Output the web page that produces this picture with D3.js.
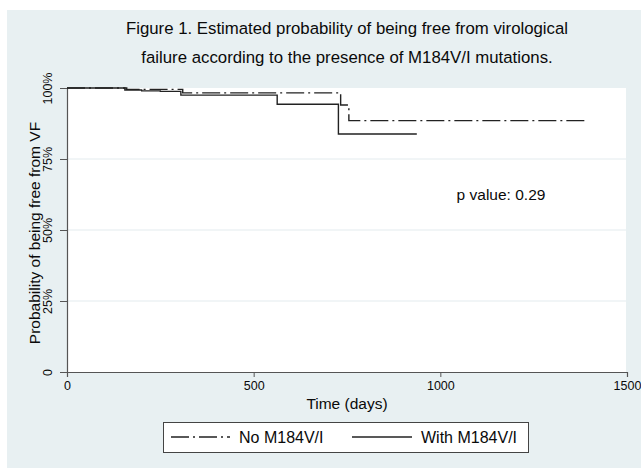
<!DOCTYPE html>
<html>
<head>
<meta charset="utf-8">
<script src="https://cdn.jsdelivr.net/npm/d3@7"></script>
<style>
  html, body { margin: 0; padding: 0; background: #ffffff; }
  svg { display: block; font-family: "Liberation Sans", Arial, Helvetica, sans-serif; }
</style>
</head>
<body>
<svg id="chart" width="641" height="468"></svg>
<script>
// Kaplan-Meier estimates, time in days
const noDays   = [0, 160, 310, 733, 755, 1395];
const noSurv   = [1, 0.995, 0.983, 0.94, 0.885, 0.885];
const withDays = [0, 155, 200, 250, 305, 563, 727, 937];
const withSurv = [1, 0.993, 0.99, 0.988, 0.975, 0.943, 0.838, 0.838];

const xTicks = [0, 500, 1000, 1500];
const yTicks = [0, 0.25, 0.5, 0.75, 1];
const yTickLabels = ["0", "25%", "50%", "75%", "100%"];
const seriesNames = ["No M184V/I", "With M184V/I"];
const titleLines = [
  "Figure 1. Estimated probability of being free from virological",
  "failure according to the presence of M184V/I mutations."
];
const pValueText = "p value: 0.29";

const svg = d3.select("#chart");
const W = 641, H = 468;
const plot = { left: 67, right: 627, top: 88, bottom: 372 };

const x = d3.scaleLinear().domain([0, 1500]).range([plot.left, plot.right]);
const y = d3.scaleLinear().domain([0, 1]).range([plot.bottom, plot.top]);

// graph region background
svg.append("rect").attr("x", 7).attr("y", 10).attr("width", W - 7).attr("height", H - 10)
  .attr("fill", "#e8f0f2");

// plot region
svg.append("rect").attr("x", plot.left).attr("y", plot.top)
  .attr("width", plot.right - plot.left - 1).attr("height", plot.bottom - plot.top)
  .attr("fill", "#ffffff");

// gridlines
svg.append("g").selectAll("line").data(yTicks.filter(d => d > 0 && d < 1)).join("line")
  .attr("x1", plot.left).attr("x2", plot.right - 1)
  .attr("y1", d => y(d)).attr("y2", d => y(d))
  .attr("stroke", "#e3ebee").attr("stroke-width", 1);

// title
svg.append("g").selectAll("text").data(titleLines).join("text")
  .attr("x", (plot.left + plot.right) / 2)
  .attr("y", (d, i) => 34 + i * 29)
  .attr("text-anchor", "middle")
  .attr("font-size", 16.8).attr("fill", "#0a0a0a")
  .text(d => d);

// x axis
const xAxis = d3.axisBottom(x).tickValues(xTicks).tickSize(5).tickPadding(4).tickFormat(d3.format("d"));
const gx = svg.append("g").attr("transform", `translate(0,${plot.bottom})`).call(xAxis);
gx.select(".domain").attr("stroke", "#555").attr("stroke-width", 1.2);
gx.selectAll(".tick line").attr("stroke", "#555");
gx.selectAll(".tick text").attr("font-size", 12.5).attr("fill", "#0a0a0a")
  .attr("font-family", "'Liberation Sans', Arial, sans-serif");

// y axis
const yAxis = d3.axisLeft(y).tickValues(yTicks).tickSize(7).tickFormat((d, i) => yTickLabels[i]);
const gy = svg.append("g").attr("transform", `translate(${plot.left},0)`).call(yAxis);
gy.select(".domain").attr("stroke", "#555").attr("stroke-width", 1.2);
gy.selectAll(".tick line").attr("stroke", "#555");
gy.selectAll(".tick text")
  .attr("font-size", 12.5).attr("fill", "#0a0a0a")
  .attr("font-family", "'Liberation Sans', Arial, sans-serif")
  .attr("x", null).attr("dy", null)
  .attr("text-anchor", "middle")
  .attr("transform", "translate(-15,0) rotate(-90)");

// axis titles
svg.append("text")
  .attr("x", (plot.left + plot.right) / 2).attr("y", 409)
  .attr("text-anchor", "middle").attr("font-size", 15.5).attr("fill", "#0a0a0a")
  .text("Time (days)");
svg.append("text")
  .attr("transform", `translate(40,${(plot.top + plot.bottom) / 2 + 3}) rotate(-90)`)
  .attr("text-anchor", "middle").attr("font-size", 15.5).attr("fill", "#0a0a0a")
  .text("Probability of being free from VF");

// survival curves
const line = d3.line().x(d => x(d[0])).y(d => y(d[1])).curve(d3.curveStepAfter);
const dashPattern = "18,4,2,4";
const noPts = noDays.map((d, i) => [d, noSurv[i]]);
const withPts = withDays.map((d, i) => [d, withSurv[i]]);

svg.append("path").datum(noPts).attr("d", line)
  .attr("fill", "none").attr("stroke", "#222").attr("stroke-width", 1.4)
  .attr("stroke-dasharray", dashPattern);
svg.append("path").datum(withPts).attr("d", line)
  .attr("fill", "none").attr("stroke", "#222").attr("stroke-width", 1.4);

// p value annotation
svg.append("text").attr("x", 501).attr("y", 200)
  .attr("text-anchor", "middle").attr("font-size", 15.5).attr("fill", "#0a0a0a")
  .text(pValueText);

// legend
const lg = svg.append("g");
lg.append("rect").attr("x", 163.5).attr("y", 422.5).attr("width", 365).attr("height", 30)
  .attr("fill", "#ffffff").attr("stroke", "#444").attr("stroke-width", 1);
const legendItems = [
  { x1: 171, x2: 230, tx: 239, dash: dashPattern },
  { x1: 352, x2: 412, tx: 421, dash: null }
];
legendItems.forEach((it, i) => {
  lg.append("line").attr("x1", it.x1).attr("x2", it.x2).attr("y1", 437).attr("y2", 437)
    .attr("stroke", "#222").attr("stroke-width", 1.4)
    .attr("stroke-dasharray", it.dash);
  lg.append("text").attr("x", it.tx).attr("y", 443)
    .attr("font-size", 16).attr("fill", "#0a0a0a").text(seriesNames[i]);
});
</script>
</body>
</html>
